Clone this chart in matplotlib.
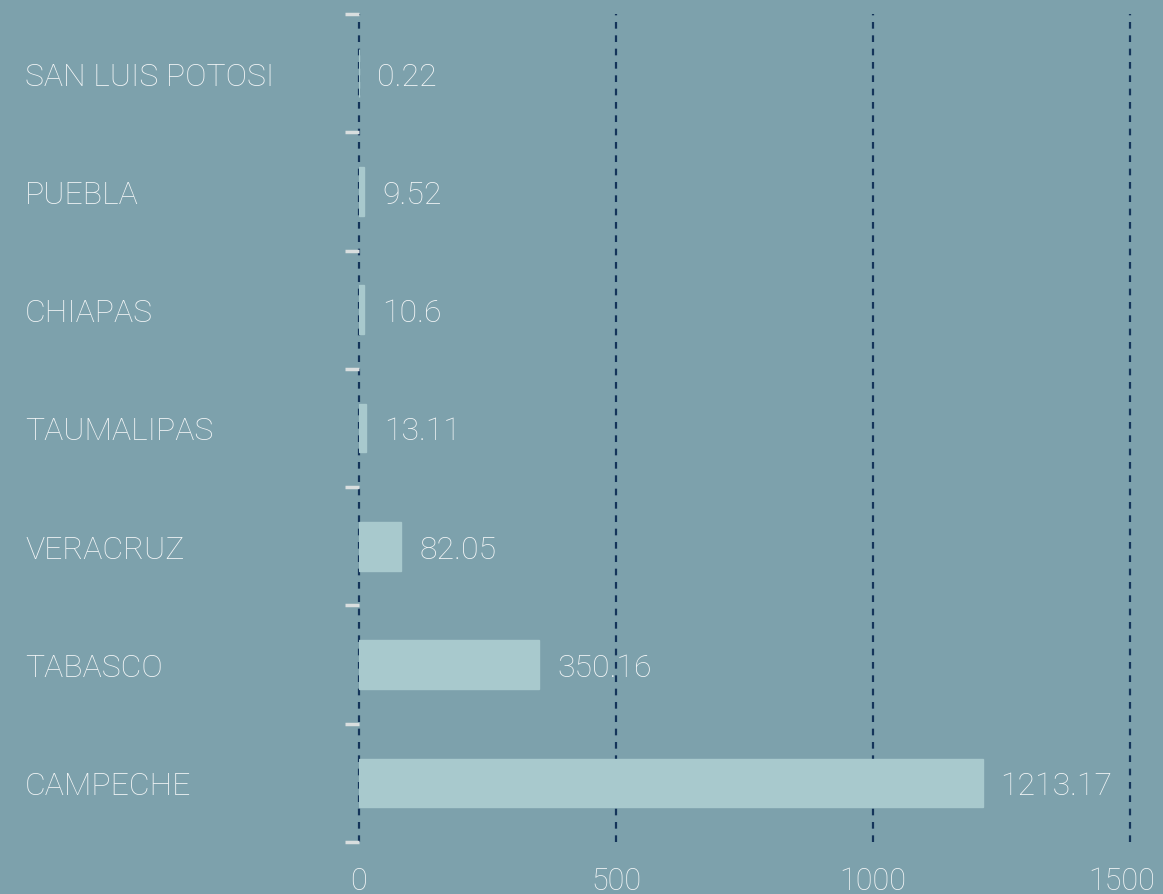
import matplotlib.pyplot as plt
import matplotlib.transforms as mtransforms
import numpy as np

# donnees
etats = ["SAN LUIS POTOSI", "PUEBLA", "CHIAPAS", "TAUMALIPAS", "VERACRUZ", "TABASCO", "CAMPECHE"]
valeurs = [0.22, 9.52, 10.6, 13.11, 82.05, 350.16, 1213.17]
etiquettes = ["0.22", "9.52", "10.6", "13.11", "82.05", "350.16", "1213.17"]
ticks_x = [0, 500, 1000, 1500]

fond = "#7DA1AC"
barre = "#A8C9CD"
texte = "#F2F5F6"
grille = "#14345A"

plt.rcParams['font.family'] = ['Roboto', 'DejaVu Sans']
taille = 23

fig = plt.figure(figsize=(11.63, 8.95), dpi=100, facecolor=fond)
ax = fig.add_axes([359 / 1163, 1 - 843 / 895, (1130 - 359) / 1163, (843 - 15) / 895])
ax.set_facecolor(fond)

y = np.arange(len(etats))
ax.barh(y, valeurs, height=0.41, color=barre, edgecolor=barre, linewidth=1, zorder=2)

ax.set_xlim(0, 1500)
ax.set_ylim(len(etats) - 0.5, -0.5)

# grille verticale en pointilles
for t in ticks_x:
    ax.axvline(t, color=grille, linestyle=(0, (3, 3)), linewidth=1.6, zorder=1, clip_on=False)

for s in ax.spines.values():
    s.set_visible(False)

ax.set_xticks(ticks_x)
ax.set_xticklabels([str(t) for t in ticks_x], color=texte, fontsize=22, fontweight='light')
ax.tick_params(axis='x', length=0, pad=17)
# le dernier label est colle au bord droit
lab_fin = ax.get_xticklabels()[-1]
lab_fin.set_horizontalalignment('right')
lab_fin.set_transform(lab_fin.get_transform() + mtransforms.ScaledTranslation(25 / 100, 0, fig.dpi_scale_trans))

# petits traits aux limites des categories
ax.set_yticks(np.arange(len(etats) + 1) - 0.5)
ax.set_yticklabels([])
ax.tick_params(axis='y', length=10, width=2.5, color="#D9DEDF")

# noms des etats
trans = mtransforms.blended_transform_factory(fig.transFigure, ax.transData)
for i, nom in enumerate(etats):
    ax.text(25 / 1163, i, nom, transform=trans, color=texte, fontsize=taille,
            fontweight='light', ha='left', va='center_baseline')

# valeurs
for i, (v, lab) in enumerate(zip(valeurs, etiquettes)):
    ax.text(v + 35, i, lab, color=texte, fontsize=taille, fontweight='light',
            ha='left', va='center_baseline', zorder=3)

fig.savefig("out.png", dpi=100, facecolor=fond)
